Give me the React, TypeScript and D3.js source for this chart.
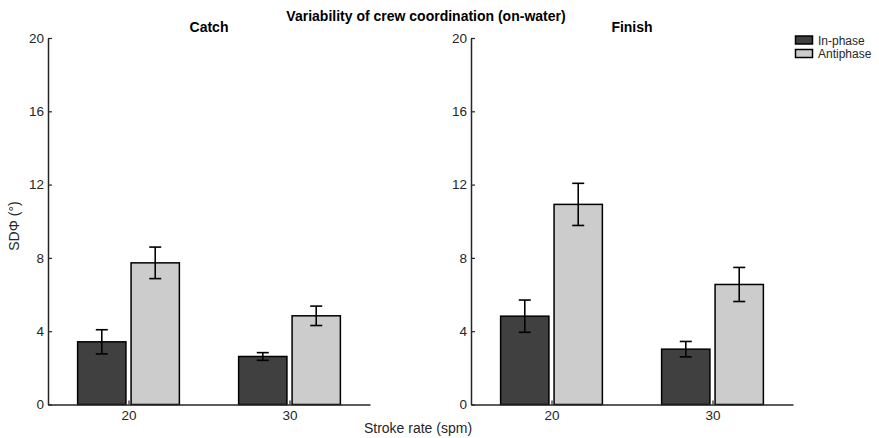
import { useEffect, useRef } from "react";
import * as d3 from "d3";

const strokeRates = ["20", "30"];
const seriesNames = ["In-phase", "Antiphase"];
const panelTitles = ["Catch", "Finish"];
const yTicks = [0, 4, 8, 12, 16, 20];

// means and SDs, [panel][series][stroke rate]
const catchInPhase = [3.42, 2.62];
const catchAntiphase = [7.73, 4.84];
const finishInPhase = [4.82, 3.02];
const finishAntiphase = [10.92, 6.55];
const catchInPhaseErr = [0.66, 0.21];
const catchAntiphaseErr = [0.86, 0.53];
const finishInPhaseErr = [0.88, 0.42];
const finishAntiphaseErr = [1.15, 0.93];

const seriesColors = ["#404040", "#cccccc"];
const ink = "#262626";
const font = "'Liberation Sans', Arial, Helvetica, sans-serif";

export default function App() {
  const svgRef = useRef<SVGSVGElement>(null);

  useEffect(() => {
    if (!svgRef.current) return;
    const svg = d3.select(svgRef.current);
    svg.selectAll("*").remove();

    const panels = [
      {
        title: panelTitles[0],
        x0: 48,
        x1: 370,
        values: [catchInPhase, catchAntiphase],
        errs: [catchInPhaseErr, catchAntiphaseErr],
      },
      {
        title: panelTitles[1],
        x0: 471,
        x1: 793,
        values: [finishInPhase, finishAntiphase],
        errs: [finishInPhaseErr, finishAntiphaseErr],
      },
    ];

    const y = d3.scaleLinear().domain([0, 20]).range([404.5, 38]);
    const barW = 0.3;
    const offsets = [-0.166, 0.166];

    panels.forEach((p) => {
      const x = d3.scaleLinear().domain([0.5, 2.5]).range([p.x0, p.x1]);
      const g = svg.append("g");

      p.values.forEach((vals, s) => {
        vals.forEach((v, i) => {
          const cx = x(i + 1 + offsets[s]);
          const w = x(barW) - x(0);
          g.append("rect")
            .attr("x", cx - w / 2)
            .attr("y", y(v))
            .attr("width", w)
            .attr("height", y(0) - y(v))
            .attr("fill", seriesColors[s])
            .attr("stroke", "#000")
            .attr("stroke-width", 1.5);
          const e = p.errs[s][i];
          const eb = g.append("g").attr("stroke", "#000").attr("stroke-width", 1.6);
          eb.append("line")
            .attr("x1", cx).attr("x2", cx)
            .attr("y1", y(v + e)).attr("y2", y(v - e));
          [v + e, v - e].forEach((yy) => {
            eb.append("line")
              .attr("x1", cx - 6).attr("x2", cx + 6)
              .attr("y1", y(yy)).attr("y2", y(yy));
          });
        });
      });

      const yAxis = g
        .append("g")
        .attr("transform", `translate(${p.x0},0)`)
        .call(d3.axisLeft(y).tickValues(yTicks).tickSize(-4).tickSizeOuter(0).tickPadding(4));
      const xAxis = g
        .append("g")
        .attr("transform", `translate(0,${y(0)})`)
        .call(
          d3
            .axisBottom(x)
            .tickValues([1, 2])
            .tickFormat((d) => strokeRates[(d as number) - 1])
            .tickSize(-4)
            .tickSizeOuter(0)
            .tickPadding(6)
        );
      [yAxis, xAxis].forEach((a) => {
        a.select(".domain").attr("stroke", ink).attr("stroke-width", 1.5);
        a.selectAll(".tick line").attr("stroke", ink).attr("stroke-width", 1.2);
        a.selectAll("text")
          .attr("fill", ink)
          .style("font-family", font)
          .style("font-size", "13.5px");
      });

      svg.append("text")
        .attr("x", (p.x0 + p.x1) / 2)
        .attr("y", 32)
        .attr("text-anchor", "middle")
        .attr("fill", "#000")
        .style("font-family", font)
        .style("font-size", "14px")
        .style("font-weight", "bold")
        .text(p.title);
    });

    svg.append("text")
      .attr("x", 426)
      .attr("y", 21)
      .attr("text-anchor", "middle")
      .attr("fill", "#000")
      .style("font-family", font)
      .style("font-size", "14px")
      .style("font-weight", "bold")
      .text("Variability of crew coordination (on-water)");

    svg.append("text")
      .attr("x", 418)
      .attr("y", 433)
      .attr("text-anchor", "middle")
      .attr("fill", ink)
      .style("font-family", font)
      .style("font-size", "14px")
      .text("Stroke rate (spm)");

    svg.append("text")
      .attr("transform", "translate(19,226) rotate(-90)")
      .attr("text-anchor", "middle")
      .attr("fill", ink)
      .style("font-family", font)
      .style("font-size", "14px")
      .text("SDΦ (°)");

    const legend = svg.append("g").attr("transform", "translate(795,36)");
    seriesNames.forEach((name, i) => {
      legend.append("rect")
        .attr("x", 0.5)
        .attr("y", i * 13.5)
        .attr("width", 17)
        .attr("height", 8)
        .attr("fill", seriesColors[i])
        .attr("stroke", "#000")
        .attr("stroke-width", 1.5);
      legend.append("text")
        .attr("x", 23)
        .attr("y", i * 13.5 + 8.5)
        .attr("fill", ink)
        .style("font-family", font)
        .style("font-size", "12px")
        .text(name);
    });
  }, []);

  return (
    <svg
      ref={svgRef}
      width={879}
      height={438}
      style={{ position: "absolute", left: 0, top: 0, background: "#fff" }}
    />
  );
}
